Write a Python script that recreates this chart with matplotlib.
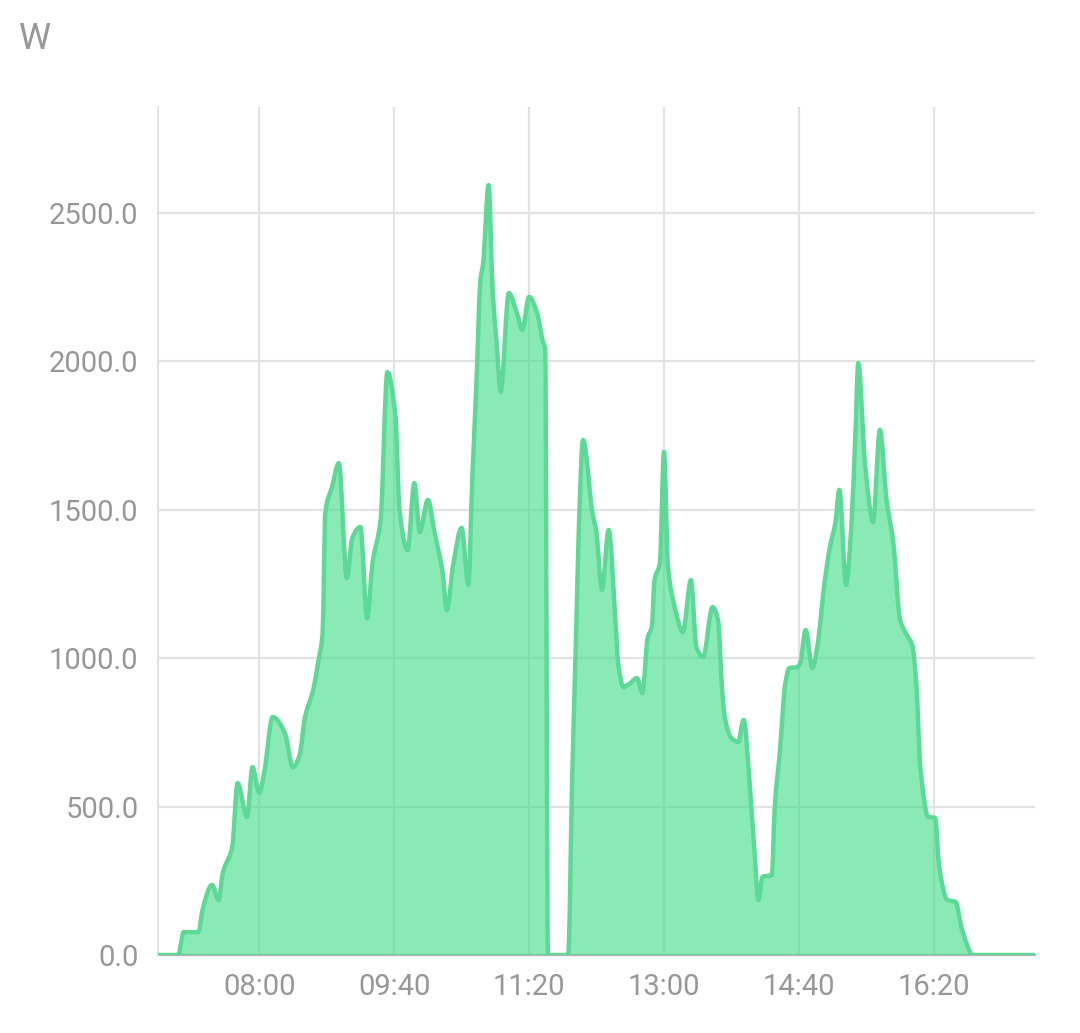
import matplotlib
matplotlib.use("Agg")
import matplotlib.pyplot as plt
from matplotlib.path import Path
from matplotlib.patches import PathPatch

# ---- data ----
times = [
    "06:45", "07:00", "07:04", "07:15", "07:18", "07:25", "07:30", "07:33", "07:40", "07:44",
    "07:51", "07:55", "08:00", "08:04", "08:10", "08:19", "08:25", "08:30", "08:34", "08:40",
    "08:44", "08:47", "08:49", "08:54", "08:59", "09:05", "09:09", "09:15", "09:20", "09:24",
    "09:30", "09:35", "09:41", "09:44", "09:50", "09:55", "09:59", "10:05", "10:10", "10:16",
    "10:19", "10:24", "10:30", "10:35", "10:38", "10:41", "10:44", "10:46", "10:50", "10:53",
    "10:56", "10:59", "11:05", "11:11", "11:15", "11:20", "11:26", "11:30", "11:32", "11:34",
    "11:49", "11:52", "11:55", "11:57", "12:00", "12:07", "12:10", "12:14", "12:19", "12:24",
    "12:26", "12:30", "12:35", "12:40", "12:44", "12:48", "12:51", "12:53", "12:57", "13:00",
    "13:03", "13:08", "13:14", "13:20", "13:24", "13:29", "13:36", "13:40", "13:43", "13:45",
    "13:50", "13:55", "13:59", "14:04", "14:07", "14:10", "14:13", "14:20", "14:22", "14:26",
    "14:30", "14:33", "14:39", "14:41", "14:45", "14:50", "14:54", "14:59", "15:03", "15:07",
    "15:10", "15:15", "15:19", "15:22", "15:24", "15:29", "15:35", "15:40", "15:45", "15:50",
    "15:55", "16:00", "16:04", "16:07", "16:10", "16:16", "16:21", "16:24", "16:30", "16:36",
    "16:41", "16:49", "17:35",
]
watts = [
    0, 0, 77, 77, 152, 236, 185, 276, 364, 579,
    465, 633, 546, 623, 802, 748, 633, 674, 802, 893,
    994, 1085, 1489, 1577, 1657, 1270, 1405, 1442, 1135, 1321,
    1466, 1964, 1813, 1499, 1364, 1590, 1425, 1533, 1422, 1287,
    1162, 1321, 1439, 1247, 1610, 1927, 2274, 2331, 2594, 2240,
    2062, 1897, 2230, 2163, 2106, 2217, 2163, 2072, 2040, 0,
    0, 600, 1100, 1450, 1735, 1489, 1422, 1230, 1432, 1129,
    984, 903, 916, 933, 883, 1071, 1105, 1263, 1321, 1695,
    1307, 1172, 1088, 1263, 1038, 1004, 1172, 1129, 903, 802,
    731, 718, 792, 546, 354, 185, 263, 270, 489, 691,
    916, 967, 970, 984, 1095, 967, 1051, 1253, 1375, 1455,
    1567, 1247, 1455, 1769, 1994, 1657, 1459, 1769, 1533, 1388,
    1129, 1078, 1044, 916, 633, 465, 462, 296, 185, 179,
    84, 0, 0,
]
tick_labels = ["08:00", "09:40", "11:20", "13:00", "14:40", "16:20"]
y_ticks = [0, 500, 1000, 1500, 2000, 2500]
unit_label = "W"


def to_min(s):
    h, m = s.split(":")
    return int(h) * 60 + int(m)


x = [to_min(t) for t in times]
xt = [to_min(t) for t in tick_labels]


def smooth_path(xs, ys):
    """Monotone cubic (PCHIP-style) Bezier path through the data points."""
    n = len(xs)
    d = [(ys[i + 1] - ys[i]) / (xs[i + 1] - xs[i]) for i in range(n - 1)]
    m = [0.0] * n
    for i in range(1, n - 1):
        if d[i - 1] * d[i] > 0:
            h0 = xs[i] - xs[i - 1]
            h1 = xs[i + 1] - xs[i]
            w1 = 2 * h1 + h0
            w2 = h1 + 2 * h0
            m[i] = (w1 + w2) / (w1 / d[i - 1] + w2 / d[i])
    verts = [(xs[0], ys[0])]
    codes = [Path.MOVETO]
    for i in range(n - 1):
        h = xs[i + 1] - xs[i]
        verts += [(xs[i] + h / 3, ys[i] + m[i] * h / 3),
                  (xs[i + 1] - h / 3, ys[i + 1] - m[i + 1] * h / 3),
                  (xs[i + 1], ys[i + 1])]
        codes += [Path.CURVE4] * 3
    return verts, codes


plt.rcParams['font.family'] = ['Roboto', 'DejaVu Sans']

fig = plt.figure(figsize=(10.8, 10.33), dpi=100)
ax = fig.add_axes([158 / 1080, 1 - 955 / 1033, (1035 - 158) / 1080, (955 - 107) / 1033])

grid_c = "#e2e2e2"
text_c = "#979797"
fill_c = "#3ddc84"
line_c = "#5ed897"

verts, codes = smooth_path(x, watts)
fill_verts = verts + [(x[-1], 0), (x[0], 0), (x[0], 0)]
fill_codes = codes + [Path.LINETO, Path.LINETO, Path.CLOSEPOLY]
ax.add_patch(PathPatch(Path(fill_verts, fill_codes), facecolor=fill_c, alpha=0.6,
                       edgecolor="none", zorder=2))
ax.add_patch(PathPatch(Path(verts, codes), facecolor="none", edgecolor=line_c,
                       linewidth=3.2, joinstyle="round", capstyle="round", zorder=3))

ax.set_xlim(405, 1055)
ax.set_ylim(0, 2857)
ax.set_xticks(xt)
ax.set_xticklabels(tick_labels)
ax.set_yticks(y_ticks)
ax.set_yticklabels([f"{v:.1f}" for v in y_ticks])

ax.grid(True, color=grid_c, linewidth=1.6, zorder=0)
ax.set_axisbelow(True)

for s in ["top", "right"]:
    ax.spines[s].set_visible(False)
ax.spines["left"].set_color(grid_c)
ax.spines["left"].set_linewidth(1.6)
ax.spines["bottom"].set_color("#b5b5b5")
ax.spines["bottom"].set_linewidth(1.6)
ax.spines["bottom"].set_zorder(1)

ax.tick_params(axis="both", length=0, colors=text_c, labelsize=21)
ax.tick_params(axis="y", pad=14)
ax.tick_params(axis="x", pad=13)

fig.text(19 / 1080, 1 - 39 / 1033, unit_label, color=text_c, fontsize=26,
         ha="left", va="center")

fig.savefig("out.png", dpi=100, facecolor="white")
